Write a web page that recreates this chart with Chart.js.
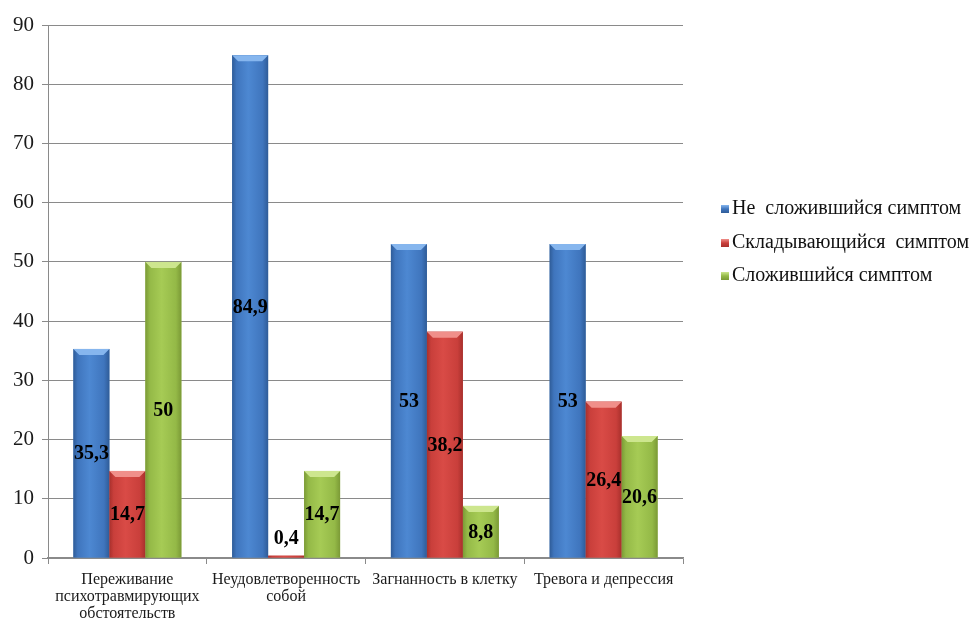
<!DOCTYPE html>
<html>
<head>
<meta charset="utf-8">
<title>Симптомы</title>
<script src="https://cdn.jsdelivr.net/npm/chart.js@4.4.1/dist/chart.umd.min.js"></script>
<style>
  html, body { margin: 0; padding: 0; background: #fff; }
  #wrap { position: relative; width: 976px; height: 618px; }
  #legend { position: absolute; left: 721px; top: 194px; font-family: "Liberation Serif", "Times New Roman", serif; font-size: 20px; color: #111; }
  #legend div { height: 33.5px; line-height: 26px; white-space: pre; }
  #legend span.box { display: inline-block; width: 8px; height: 8px; margin-right: 3px; vertical-align: 1px; }
</style>
</head>
<body>
<div id="wrap">
  <canvas id="myChart" width="976" height="618"></canvas>
  <div id="legend"></div>
</div>
<script>
  let categories = [
    ['Переживание', 'психотравмирующих', 'обстоятельств'],
    ['Неудовлетворенность', 'собой'],
    'Загнанность в клетку',
    'Тревога и депрессия'
  ]
  let seriesNames = ['Не  сложившийся симптом', 'Складывающийся  симптом', 'Сложившийся симптом']
  let notFormed = [35.3, 84.9, 53, 53]
  let forming = [14.7, 0.4, 38.2, 26.4]
  let formed = [50, 14.7, 8.8, 20.6]
  let yTicks = [0, 10, 20, 30, 40, 50, 60, 70, 80, 90]

  // edge / body / highlight / cap colours for each series
  const palette = [
    { edge: '#2f5c98', body: '#3f75bd', light: '#4d88d2', cap: '#86b6ee', solid: '#4a7ebb' },
    { edge: '#a8302c', body: '#c93f3b', light: '#d94b46', cap: '#f08f8a', solid: '#c0504d' },
    { edge: '#7b9a36', body: '#94b947', light: '#a6cb55', cap: '#cde68e', solid: '#9bbb59' }
  ]

  // redraw every bar with a shaded, bevelled look and put the value inside
  const bevelBars = {
    id: 'bevelBars',
    afterDatasetsDraw(chart) {
      const ctx = chart.ctx
      ctx.save()
      chart.data.datasets.forEach((ds, i) => {
        const meta = chart.getDatasetMeta(i)
        const c = palette[i]
        meta.data.forEach((bar, j) => {
          const w = bar.width
          const left = bar.x - w / 2
          const top = bar.y
          const h = bar.base - bar.y
          const g = ctx.createLinearGradient(left, 0, left + w, 0)
          g.addColorStop(0, c.edge)
          g.addColorStop(0.12, c.body)
          g.addColorStop(0.45, c.light)
          g.addColorStop(0.85, c.body)
          g.addColorStop(1, c.edge)
          ctx.fillStyle = g
          ctx.fillRect(left, top, w, h)
          if (h > 10) {
            const b = 6
            ctx.fillStyle = c.cap
            ctx.beginPath()
            ctx.moveTo(left, top)
            ctx.lineTo(left + w, top)
            ctx.lineTo(left + w - b, top + b)
            ctx.lineTo(left + b, top + b)
            ctx.closePath()
            ctx.fill()
          }

          const v = ds.data[j]
          ctx.font = 'bold 20px "Liberation Serif", "Times New Roman", serif'
          ctx.textAlign = 'center'
          ctx.textBaseline = 'middle'
          const txt = String(v).replace('.', ',')
          let ty = top + h / 2
          if (h < 20) {
            // too thin to hold text: set it on top
            ty = bar.base - 20
            ctx.fillStyle = '#fff'
            const tw = ctx.measureText(txt).width
            ctx.fillRect(bar.x - tw / 2 - 1, ty - 10, tw + 2, 19)
          }
          ctx.fillStyle = '#000'
          ctx.fillText(txt, bar.x, ty + 1)
        })
      })
      ctx.restore()
    }
  }

  const ctx = document.getElementById('myChart')

  const chart = new Chart(ctx, {
    type: 'bar',
    data: {
      labels: categories,
      datasets: [
        { label: seriesNames[0], data: notFormed, backgroundColor: palette[0].solid },
        { label: seriesNames[1], data: forming, backgroundColor: palette[1].solid },
        { label: seriesNames[2], data: formed, backgroundColor: palette[2].solid }
      ]
    },
    options: {
      responsive: false,
      animation: false,
      datasets: {
        bar: { categoryPercentage: 0.68, barPercentage: 1, borderWidth: 0 }
      },
      layout: {
        padding: { left: 5, right: 293, top: 25, bottom: 0 }
      },
      plugins: {
        legend: { display: false },
        tooltip: { enabled: false }
      },
      scales: {
        x: {
          grid: {
            drawOnChartArea: false,
            drawTicks: true,
            tickLength: 6,
            color: '#8a8a8a'
          },
          border: { color: '#8a8a8a', width: 1.5 },
          ticks: {
            color: '#1a1a1a',
            font: { family: '"Liberation Serif", "Times New Roman", serif', size: 16, lineHeight: 1.08 },
            maxRotation: 0,
            minRotation: 0,
            autoSkip: false,
            padding: 7
          },
          afterFit(scale) { scale.height = 60 }
        },
        y: {
          min: 0,
          max: 90,
          afterBuildTicks(scale) { scale.ticks = yTicks.map(v => ({ value: v })) },
          grid: { color: '#8a8a8a', tickLength: 6, lineWidth: 1 },
          border: { color: '#8a8a8a' },
          ticks: {
            color: '#1a1a1a',
            font: { family: '"Liberation Serif", "Times New Roman", serif', size: 21 },
            padding: 8
          }
        }
      }
    },
    plugins: [bevelBars]
  })

  // legend built from the datasets
  let legend = document.getElementById('legend')
  chart.data.datasets.forEach((ds, i) => {
    let row = document.createElement('div')
    let box = document.createElement('span')
    box.className = 'box'
    box.style.background = 'linear-gradient(180deg, ' + palette[i].cap + ', ' + palette[i].body + ' 50%, ' + palette[i].edge + ')'
    row.appendChild(box)
    row.appendChild(document.createTextNode(ds.label))
    legend.appendChild(row)
  })
</script>
</body>
</html>
